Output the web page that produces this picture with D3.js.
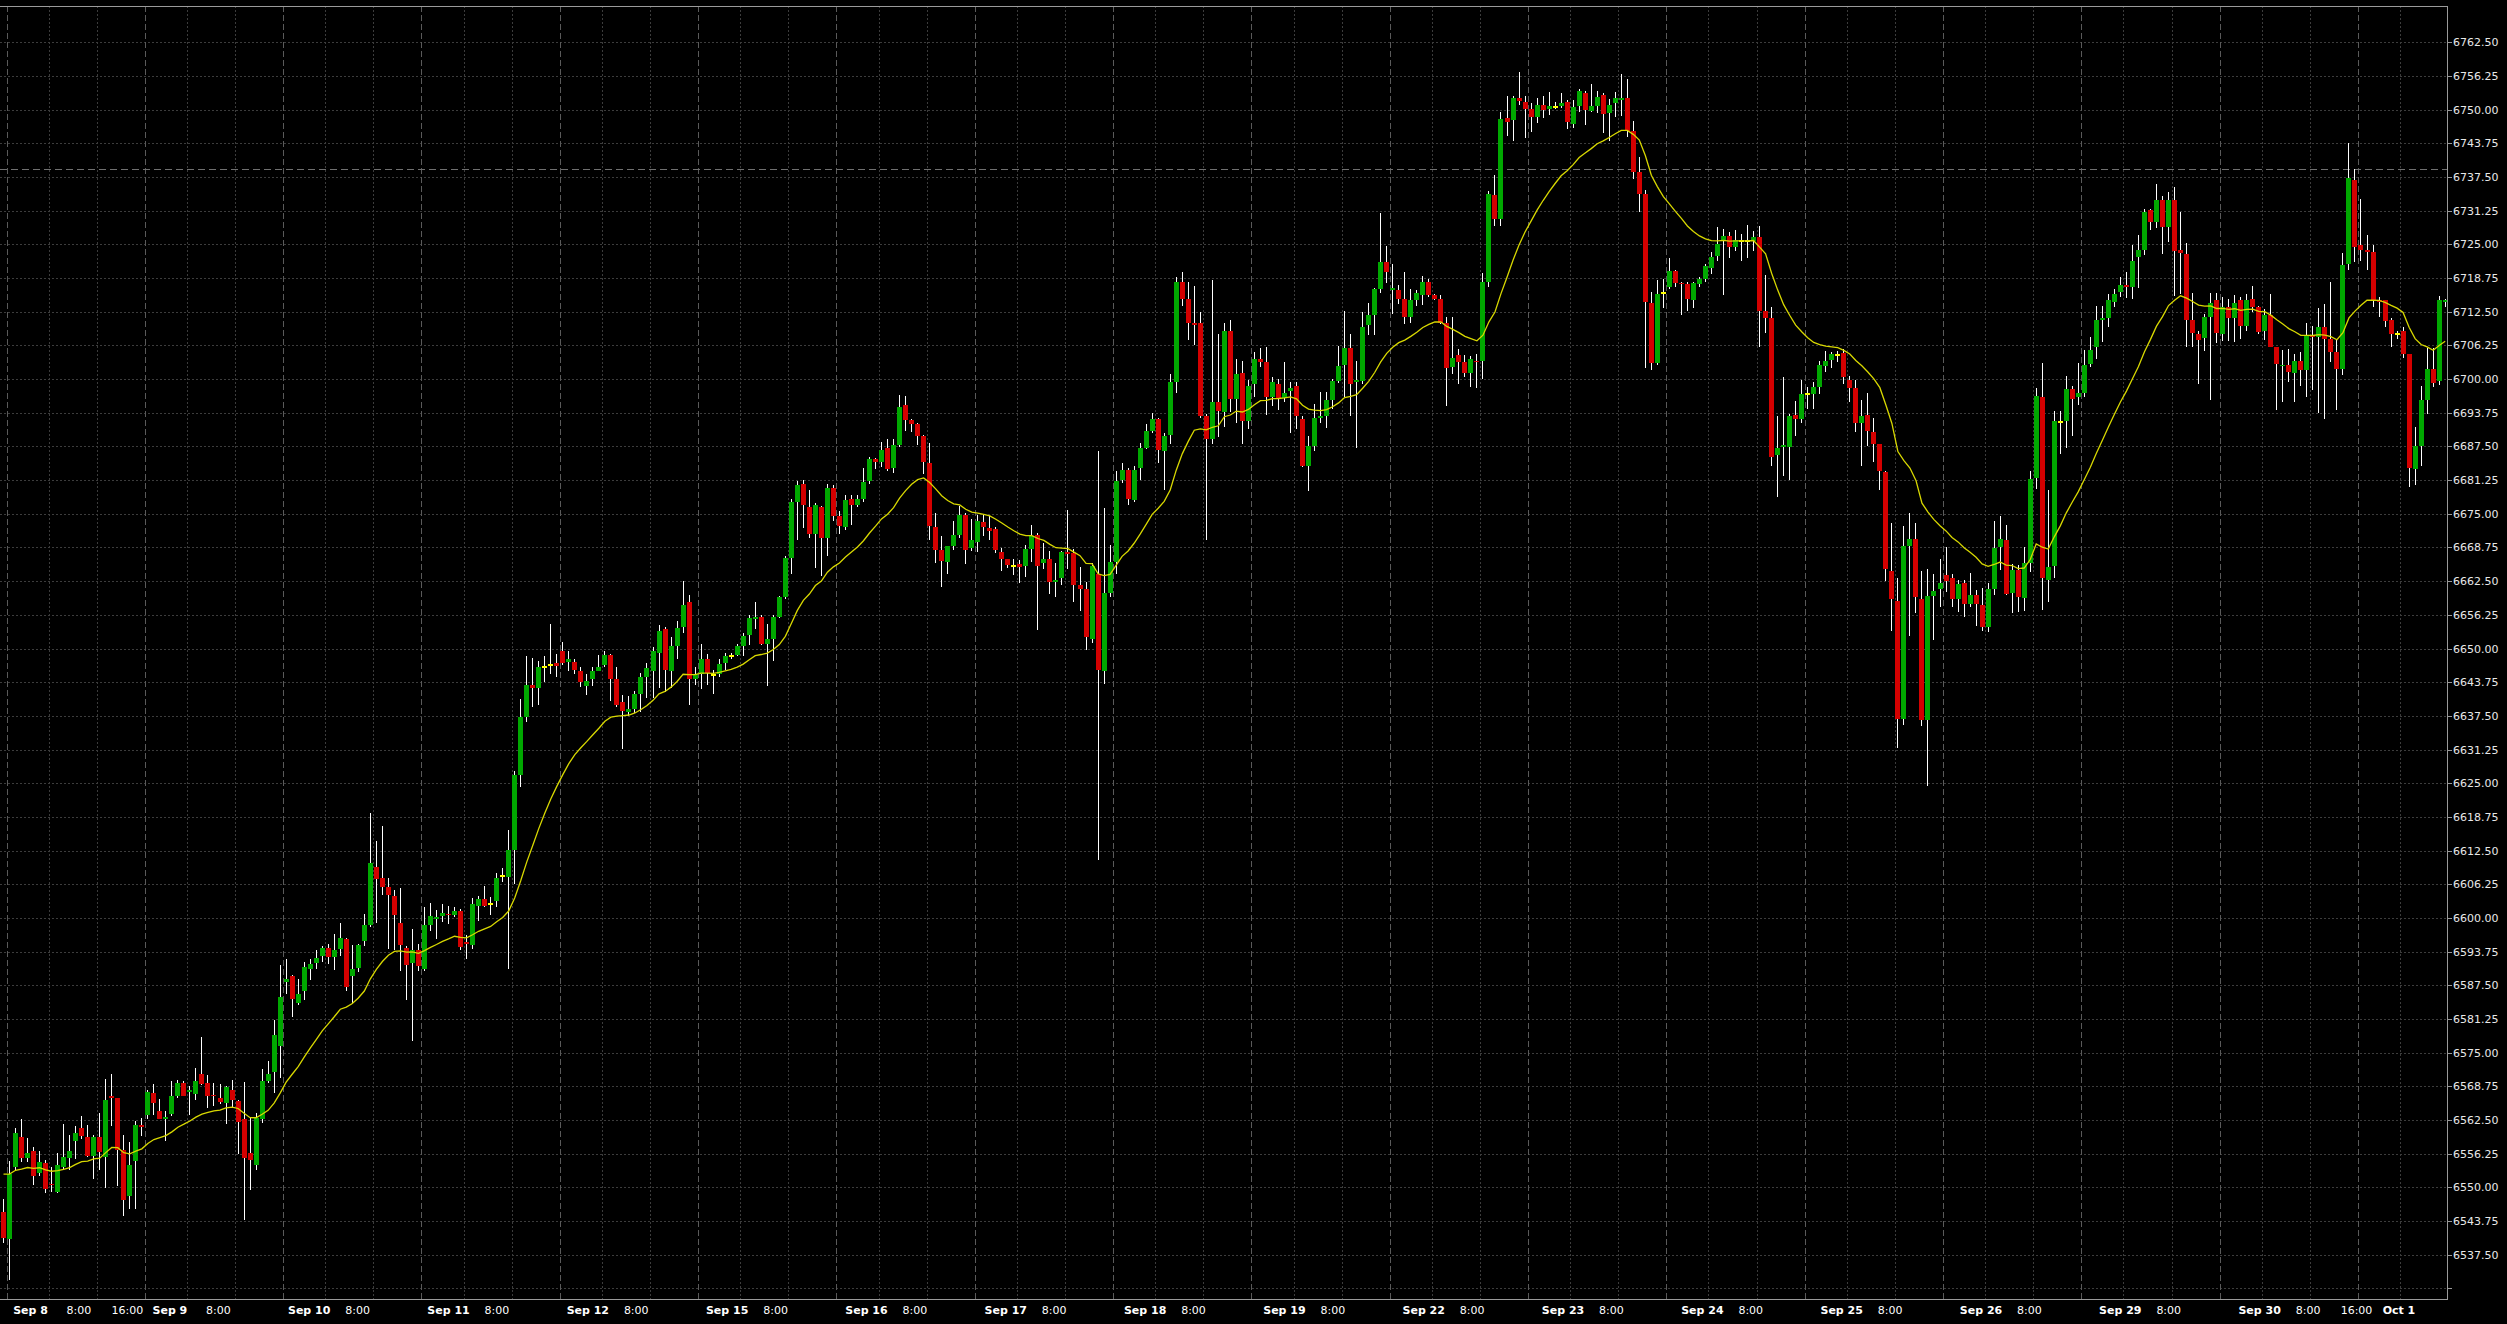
<!DOCTYPE html>
<html><head><meta charset="utf-8">
<script src="https://cdn.jsdelivr.net/npm/d3@7"></script>
<style>html,body{margin:0;padding:0;background:#000;overflow:hidden}svg{display:block}</style>
</head><body>
<svg id="chart" width="2507" height="1324"></svg>
<script>
// ---- hourly OHLC bars, one array per session: [open, high, low, close] ----
const sep05 = [[6545.5,6547.9,6539.7,6540.6]];
const sep08 = [
[6540.5,6554.9,6532.9,6552.5],[6553.8,6561.0,6553.3,6560.0],[6559.3,6562.6,6554.7,6555.5],[6555.4,6559.1,6554.7,6556.4],
[6556.8,6557.5,6550.5,6552.1],[6552.6,6556.8,6552.1,6554.7],[6554.6,6555.0,6548.9,6549.7],[6550.7,6553.8,6549.1,6550.4],
[6549.1,6556.4,6549.0,6554.1],[6553.8,6561.8,6553.3,6555.7],[6555.4,6559.8,6553.3,6556.8],[6558.6,6561.4,6555.3,6560.0],
[6561.0,6563.3,6558.9,6559.5],[6559.3,6561.5,6555.7,6555.8],[6555.8,6559.8,6551.5,6559.3],[6559.4,6563.8,6553.3,6556.5],
[6555.6,6570.2,6549.9,6566.3],[6567.0,6571.1,6561.4,6566.5],[6566.5,6566.6,6550.2,6557.0],[6557.0,6559.8,6544.6,6547.6],
[6548.4,6558.4,6545.9,6554.2],[6554.9,6562.3,6545.9,6561.5],[6561.5,6562.8,6559.6,6561.2]];
const sep09 = [
[6563.5,6568.0,6562.6,6567.7],[6567.5,6569.1,6563.5,6565.7],[6564.2,6566.4,6562.6,6562.7],[6562.7,6564.1,6558.6,6563.0],
[6563.6,6569.7,6563.2,6567.0],[6566.9,6570.0,6566.6,6569.4],[6569.4,6569.7,6566.9,6567.0],[6567.7,6568.8,6563.5,6568.0],
[6567.3,6572.2,6566.3,6569.7],[6571.1,6577.9,6569.0,6569.1],[6569.4,6570.8,6564.8,6566.9],[6567.2,6569.4,6565.1,6566.9],
[6566.5,6569.1,6565.4,6565.8],[6565.7,6568.9,6561.7,6568.6],[6568.0,6569.9,6564.8,6566.3],[6566.1,6566.3,6556.1,6562.1],
[6562.6,6569.5,6543.9,6555.4],[6556.4,6562.8,6549.6,6555.0],[6554.1,6563.8,6553.3,6562.9],[6562.6,6571.9,6562.0,6569.8],
[6569.8,6573.4,6569.4,6571.1],[6571.4,6581.0,6567.5,6578.3],[6576.2,6591.3,6570.3,6585.3]];
const sep10 = [
[6588.1,6592.3,6585.8,6588.7],[6589.3,6589.5,6581.7,6585.0],[6584.3,6588.7,6583.9,6585.9],[6586.5,6591.8,6584.7,6590.9],
[6590.6,6592.3,6588.5,6591.5],[6591.6,6594.1,6590.5,6592.6],[6592.9,6594.7,6591.9,6594.5],[6594.5,6595.1,6591.5,6592.7],
[6592.8,6597.1,6590.4,6594.1],[6594.2,6599.1,6592.9,6596.3],[6596.0,6596.3,6586.4,6587.2],[6589.2,6594.9,6584.2,6590.6],
[6590.8,6595.2,6589.9,6594.9],[6595.7,6600.7,6594.7,6598.6],[6598.6,6619.4,6598.4,6610.2],[6609.4,6614.3,6599.1,6607.2],
[6607.5,6617.1,6604.3,6605.7],[6605.7,6607.4,6594.3,6604.2],[6604.1,6605.2,6594.1,6600.6],[6599.1,6605.6,6590.1,6594.9],
[6594.4,6594.8,6584.8,6591.3],[6591.6,6598.0,6577.1,6594.1],[6594.1,6595.2,6590.1,6591.0]];
const sep11 = [
[6590.6,6602.1,6590.1,6598.7],[6598.6,6602.8,6597.6,6600.3],[6599.8,6601.5,6596.1,6600.1],[6600.3,6602.5,6599.2,6601.0],
[6600.8,6602.3,6598.9,6600.5],[6600.6,6602.1,6600.2,6601.3],[6601.3,6601.7,6594.0,6594.6],[6595.6,6596.8,6592.4,6595.2],
[6594.9,6603.7,6594.3,6602.5],[6602.3,6604.1,6599.4,6603.6],[6603.6,6606.0,6602.1,6602.3],[6602.6,6603.9,6600.6,6602.6],
[6603.1,6608.3,6602.1,6607.5],[6607.8,6609.3,6606.6,6607.8],[6607.6,6616.4,6590.6,6612.6],[6612.6,6627.2,6606.3,6626.6],
[6626.6,6640.6,6624.3,6637.3],[6637.3,6648.6,6636.4,6643.2],[6643.2,6648.3,6639.2,6642.6],[6642.6,6647.7,6639.5,6646.5],
[6646.6,6648.7,6643.7,6646.6],[6647.0,6654.5,6645.2,6647.0],[6647.3,6649.0,6644.8,6646.8]];
const sep12 = [
[6649.5,6651.2,6647.0,6647.3],[6647.5,6649.6,6645.8,6648.0],[6647.5,6648.1,6645.2,6646.1],[6645.8,6646.5,6642.8,6643.7],
[6643.1,6645.3,6641.4,6644.0],[6644.4,6646.6,6643.1,6645.8],[6645.9,6648.8,6645.8,6646.6],[6646.9,6649.5,6646.5,6648.8],
[6648.8,6649.0,6640.3,6644.4],[6644.3,6646.5,6639.2,6639.5],[6640.1,6641.4,6631.3,6638.4],[6638.2,6641.1,6637.5,6638.7],
[6638.8,6642.2,6638.0,6641.6],[6641.6,6645.5,6638.2,6644.7],[6644.7,6647.4,6640.8,6646.4],[6645.9,6650.2,6640.8,6649.6],
[6649.1,6654.3,6642.6,6653.2],[6653.6,6654.0,6641.9,6646.1],[6645.9,6652.1,6642.6,6650.5],[6650.5,6655.1,6648.1,6653.8],
[6654.0,6662.5,6652.9,6658.0],[6658.6,6660.0,6639.5,6644.4],[6644.4,6646.5,6643.3,6645.2]];
const sep15 = [
[6645.2,6650.8,6642.5,6648.0],[6648.0,6649.0,6643.2,6645.4],[6645.1,6646.1,6641.5,6645.1],[6645.2,6648.1,6644.8,6647.2],
[6647.3,6649.2,6646.1,6648.7],[6648.7,6649.2,6648.1,6648.7],[6648.8,6650.9,6648.6,6650.5],[6650.5,6652.9,6648.7,6652.4],
[6652.5,6656.2,6650.7,6655.6],[6655.4,6658.6,6653.6,6655.9],[6655.9,6656.2,6650.7,6650.9],[6650.8,6654.5,6643.0,6651.8],
[6651.8,6656.2,6647.7,6655.9],[6655.9,6659.8,6655.6,6659.5],[6659.5,6667.2,6659.1,6666.8],[6666.8,6677.8,6663.9,6677.1],
[6677.1,6681.1,6670.1,6680.3],[6680.5,6681.2,6672.3,6676.6],[6676.2,6679.4,6670.5,6671.3],[6671.3,6677.0,6665.0,6676.6],
[6676.3,6676.5,6663.5,6670.5],[6670.5,6680.5,6667.2,6679.8],[6679.8,6680.3,6673.7,6674.5]];
const sep16 = [
[6674.6,6675.6,6671.2,6672.7],[6672.5,6678.5,6672.0,6677.6],[6677.8,6678.4,6673.0,6676.7],[6676.7,6678.5,6676.2,6677.8],
[6677.8,6683.5,6677.2,6680.9],[6681.1,6685.5,6680.5,6685.1],[6685.1,6685.3,6683.3,6684.7],[6684.7,6688.4,6683.6,6686.8],
[6687.3,6688.9,6682.9,6683.3],[6683.5,6688.8,6682.5,6687.7],[6687.8,6697.0,6687.4,6694.8],[6695.1,6696.8,6690.4,6692.4],
[6692.4,6692.6,6690.2,6691.7],[6691.7,6691.8,6687.7,6689.5],[6689.5,6689.6,6682.3,6684.7],[6684.5,6688.2,6670.1,6672.8],
[6672.6,6675.2,6665.9,6668.3],[6668.3,6670.8,6661.5,6666.2],[6666.1,6669.1,6663.9,6669.0],[6669.0,6673.7,6668.3,6671.0],
[6671.0,6676.5,6670.5,6674.7],[6674.7,6675.2,6665.7,6668.3],[6668.6,6674.0,6668.1,6670.1]];
const sep17 = [
[6669.7,6674.8,6667.9,6673.6],[6673.5,6674.7,6670.8,6672.5],[6672.4,6674.5,6670.1,6671.9],[6672.1,6672.5,6667.7,6668.3],
[6668.0,6668.7,6664.3,6666.6],[6666.6,6666.7,6664.9,6665.5],[6665.3,6666.6,6663.6,6665.3],[6665.7,6666.4,6662.1,6665.1],
[6665.3,6669.2,6663.3,6668.5],[6668.5,6673.0,6666.1,6670.9],[6671.1,6671.4,6653.5,6665.3],[6665.8,6669.6,6664.7,6666.7],
[6666.6,6668.1,6660.2,6662.4],[6662.3,6665.8,6659.6,6662.8],[6663.0,6668.1,6661.7,6668.0],[6667.9,6675.7,6664.8,6667.5],
[6667.7,6668.5,6658.6,6661.7],[6661.7,6665.2,6657.0,6661.1],[6661.1,6662.3,6649.8,6652.1],[6651.8,6665.8,6651.1,6665.3],
[6663.8,6686.6,6610.7,6646.0],[6645.8,6676.0,6643.5,6660.3],[6660.3,6669.2,6659.6,6666.1]];
const sep18 = [
[6666.1,6682.9,6663.9,6681.0],[6681.2,6684.4,6680.7,6683.1],[6683.1,6683.5,6676.7,6677.7],[6677.6,6683.8,6677.2,6683.1],
[6683.5,6688.2,6681.3,6687.2],[6687.2,6691.6,6687.0,6690.3],[6690.4,6693.7,6690.0,6692.5],[6692.5,6692.7,6684.5,6686.8],
[6686.6,6690.0,6679.5,6689.5],[6689.7,6701.0,6688.0,6699.5],[6699.5,6719.0,6697.5,6718.0],[6718.0,6719.8,6713.5,6714.9],
[6714.9,6718.0,6707.2,6710.5],[6710.5,6717.3,6706.3,6710.1],[6710.5,6712.5,6692.7,6693.1],[6693.1,6693.5,6670.1,6688.8],
[6688.8,6718.3,6688.0,6695.7],[6695.7,6708.4,6689.3,6694.0],[6693.8,6710.5,6691.2,6709.0],[6709.0,6711.0,6693.8,6696.3],
[6696.3,6703.7,6691.9,6701.0],[6701.2,6703.4,6688.0,6692.3],[6692.3,6699.9,6690.8,6698.8]];
const sep19 = [
[6699.0,6705.0,6696.6,6703.7],[6703.7,6705.7,6702.3,6703.1],[6703.1,6705.9,6693.3,6696.6],[6696.6,6700.4,6695.0,6699.5],
[6699.1,6700.1,6694.2,6696.5],[6696.5,6703.1,6695.7,6697.5],[6697.8,6699.5,6690.0,6698.4],[6698.7,6699.5,6690.8,6693.1],
[6692.5,6693.1,6683.6,6683.8],[6683.8,6689.5,6679.3,6687.5],[6687.5,6695.3,6686.6,6692.7],[6692.8,6697.6,6691.9,6693.2],
[6693.2,6697.6,6691.0,6696.2],[6696.2,6700.1,6694.4,6699.7],[6699.7,6706.2,6699.3,6702.5],[6702.7,6712.6,6696.7,6705.8],
[6705.8,6708.4,6693.1,6699.1],[6699.4,6703.3,6687.2,6699.9],[6699.7,6712.4,6699.1,6709.7],[6710.1,6714.1,6708.2,6711.8],
[6711.8,6716.9,6708.2,6716.8],[6716.8,6730.8,6716.0,6721.8],[6721.8,6724.7,6717.9,6719.8]];
const sep22 = [
[6716.5,6721.4,6712.1,6716.9],[6716.5,6717.4,6713.9,6714.8],[6714.8,6719.9,6710.3,6711.6],[6711.6,6716.8,6710.5,6714.6],
[6714.6,6716.5,6713.6,6716.0],[6715.6,6719.2,6713.7,6718.0],[6718.0,6718.6,6715.2,6715.6],[6715.6,6715.8,6714.6,6714.8],
[6714.8,6715.6,6710.3,6710.5],[6710.5,6711.6,6695.0,6702.0],[6702.3,6711.6,6701.0,6703.9],[6704.4,6705.6,6699.1,6703.1],
[6703.1,6704.4,6700.3,6701.2],[6701.2,6704.3,6698.6,6703.7],[6703.4,6704.6,6698.4,6703.1],[6703.3,6719.6,6700.1,6718.0],
[6718.0,6734.9,6717.0,6734.3],[6734.2,6737.8,6728.4,6729.8],[6729.8,6749.5,6728.4,6748.2],[6748.4,6752.6,6745.2,6747.7],
[6748.0,6752.6,6744.2,6752.2],[6752.2,6757.0,6750.8,6751.6],[6751.5,6752.6,6744.8,6750.2]];
const sep23 = [
[6750.2,6751.3,6745.8,6748.6],[6748.6,6752.1,6747.5,6750.8],[6750.8,6752.6,6748.4,6750.0],[6750.1,6753.3,6749.0,6750.6],
[6750.5,6751.4,6750.2,6750.5],[6750.6,6753.0,6750.4,6751.3],[6751.4,6751.7,6746.4,6747.7],[6747.3,6751.7,6746.6,6750.5],
[6750.6,6753.9,6749.5,6753.5],[6753.0,6753.5,6747.1,6749.9],[6749.8,6754.8,6749.5,6750.6],[6750.6,6753.5,6749.3,6752.4],
[6752.8,6753.0,6745.7,6749.2],[6749.3,6752.0,6744.2,6750.8],[6751.2,6753.2,6748.6,6752.1],[6751.8,6756.6,6748.8,6752.1],
[6752.1,6755.7,6744.9,6746.1],[6746.1,6747.9,6737.1,6738.4],[6738.4,6741.3,6731.1,6734.4],[6734.4,6735.0,6702.0,6714.3],
[6714.2,6716.1,6701.6,6702.9],[6702.9,6718.4,6702.7,6715.8],[6716.0,6718.6,6713.1,6716.0]];
const sep24 = [
[6717.0,6722.5,6716.7,6720.0],[6720.0,6720.2,6717.1,6717.8],[6717.8,6718.0,6711.8,6717.6],[6717.7,6718.0,6712.7,6714.9],
[6714.7,6718.0,6713.1,6717.8],[6717.6,6718.9,6717.1,6718.6],[6718.6,6721.3,6718.0,6720.9],[6720.7,6723.6,6719.5,6722.7],
[6722.9,6728.2,6722.0,6725.1],[6725.8,6727.8,6715.6,6726.5],[6726.5,6727.3,6722.4,6724.5],[6724.5,6727.6,6723.8,6725.8],
[6725.7,6726.9,6722.0,6725.7],[6725.7,6728.6,6722.4,6725.7],[6725.7,6727.5,6723.8,6726.4],[6726.4,6728.4,6706.0,6712.7],
[6712.7,6719.3,6708.5,6711.4],[6711.4,6713.4,6683.9,6685.6],[6685.9,6693.2,6678.1,6687.2],[6687.4,6700.3,6682.1,6687.7],
[6687.4,6693.6,6681.2,6693.2],[6693.4,6695.9,6689.4,6692.5],[6692.5,6699.8,6691.9,6697.2]];
const sep25 = [
[6697.2,6698.5,6694.5,6697.2],[6697.2,6699.4,6694.5,6698.5],[6698.5,6703.4,6697.3,6702.7],[6702.5,6705.3,6701.3,6703.4],
[6703.6,6705.1,6702.0,6704.7],[6704.5,6705.3,6703.2,6704.5],[6704.9,6705.6,6699.0,6700.3],[6699.8,6700.5,6695.8,6698.3],
[6698.3,6699.8,6690.1,6691.9],[6691.9,6696.1,6683.9,6693.2],[6693.4,6697.4,6687.6,6690.3],[6690.1,6692.7,6684.6,6687.9],
[6687.9,6688.0,6679.4,6683.0],[6682.8,6683.0,6662.6,6664.8],[6664.4,6673.2,6653.3,6659.1],[6658.8,6663.0,6631.6,6636.9],
[6636.9,6672.8,6635.8,6669.0],[6669.0,6675.2,6652.4,6670.3],[6670.3,6673.2,6656.6,6659.5],[6659.1,6664.4,6635.6,6636.7],
[6636.7,6664.8,6624.5,6659.8],[6659.8,6663.9,6651.5,6660.6],[6661.0,6666.6,6657.7,6662.1]];
const sep26 = [
[6663.7,6668.8,6660.4,6662.6],[6663.0,6663.9,6657.7,6659.1],[6659.1,6662.8,6656.8,6661.9],[6662.2,6662.8,6655.9,6658.3],
[6658.3,6664.1,6657.7,6659.9],[6659.9,6660.8,6654.2,6658.2],[6658.0,6661.3,6653.3,6654.0],[6654.0,6662.2,6653.0,6661.1],
[6661.1,6673.7,6659.9,6668.7],[6668.8,6674.5,6664.5,6670.4],[6670.2,6673.0,6660.0,6660.2],[6660.3,6665.7,6656.6,6664.5],
[6664.6,6665.5,6656.8,6659.5],[6659.4,6668.9,6656.9,6665.9],[6665.9,6683.0,6664.2,6681.5],[6681.6,6698.3,6679.6,6696.8],
[6696.6,6703.0,6657.2,6663.1],[6662.8,6679.5,6658.6,6665.2],[6665.4,6694.0,6663.0,6692.3],[6692.1,6694.0,6686.1,6692.1],
[6692.3,6700.5,6687.2,6698.1],[6698.1,6698.8,6689.5,6696.3],[6696.6,6703.0,6695.2,6697.5]];
const sep29 = [
[6697.4,6705.4,6696.6,6702.6],[6702.8,6707.8,6702.2,6705.4],[6705.9,6713.5,6703.7,6711.0],[6711.0,6713.5,6706.9,6711.3],
[6711.3,6715.8,6709.6,6714.6],[6714.3,6716.7,6713.3,6715.8],[6716.1,6719.0,6715.2,6717.4],[6717.5,6719.9,6715.0,6717.0],
[6717.0,6724.8,6714.9,6722.0],[6722.6,6726.7,6716.9,6723.9],[6724.0,6731.6,6723.1,6731.1],[6731.3,6731.6,6727.7,6729.1],
[6729.1,6736.2,6728.1,6733.2],[6733.2,6734.0,6723.3,6728.3],[6728.3,6734.7,6725.4,6733.2],[6733.2,6735.6,6715.5,6723.8],
[6724.0,6731.1,6715.8,6723.4],[6723.2,6725.3,6706.0,6711.0],[6711.0,6716.0,6706.0,6708.5],[6708.4,6709.0,6699.0,6707.3],
[6707.6,6712.1,6705.3,6711.6],[6711.6,6716.0,6696.1,6714.1],[6714.6,6716.0,6706.7,6708.5]];
const sep30 = [
[6708.4,6715.2,6707.1,6713.3],[6713.3,6714.9,6707.1,6711.3],[6711.3,6715.6,6706.8,6714.1],[6714.6,6715.2,6707.5,6709.8],
[6709.8,6715.8,6708.9,6714.7],[6714.9,6717.3,6712.4,6713.3],[6713.3,6713.6,6708.4,6708.8],[6708.9,6713.0,6707.3,6711.8],
[6711.9,6715.8,6705.9,6705.9],[6706.0,6706.0,6694.2,6702.8],[6702.4,6705.4,6695.7,6702.7],[6702.7,6705.5,6699.4,6701.3],
[6701.2,6704.7,6695.7,6703.3],[6703.3,6705.0,6698.8,6701.7],[6701.7,6710.5,6696.6,6708.1],[6708.2,6709.9,6697.9,6707.9],
[6707.8,6713.1,6693.7,6709.6],[6709.6,6713.9,6692.6,6707.5],[6707.5,6718.1,6703.1,6705.0],[6705.0,6707.5,6694.2,6701.9],
[6701.9,6723.4,6700.7,6721.2],[6721.3,6743.9,6720.3,6737.3],[6737.0,6739.0,6721.7,6724.6]];
const oct01 = [
[6724.9,6733.4,6722.0,6724.0],[6724.0,6726.8,6720.3,6723.5],[6723.5,6724.8,6713.3,6714.6],[6714.7,6715.3,6711.5,6714.3],
[6714.6,6714.7,6709.6,6710.7],[6711.0,6711.3,6705.9,6708.4],[6708.3,6709.0,6707.5,6708.3],[6708.9,6709.6,6703.9,6704.7],
[6704.6,6704.7,6680.0,6683.5],[6683.4,6691.1,6680.3,6687.5],[6687.5,6698.8,6683.8,6696.1],[6696.1,6705.8,6693.6,6701.9],
[6701.9,6705.7,6698.5,6699.2],[6699.6,6715.5,6698.9,6714.6],[6714.3,6714.9,6713.3,6714.6]];

const sessions = [sep05, sep08, sep09, sep10, sep11, sep12, sep15, sep16, sep17, sep18, sep19,
                  sep22, sep23, sep24, sep25, sep26, sep29, sep30, oct01];
const sessionNames = ["Sep 5","Sep 8","Sep 9","Sep 10","Sep 11","Sep 12","Sep 15","Sep 16","Sep 17","Sep 18","Sep 19",
                      "Sep 22","Sep 23","Sep 24","Sep 25","Sep 26","Sep 29","Sep 30","Oct 1"];
const sessionFirstHour = [23,1,1,1,1,1,1,1,1,1,1,1,1,1,1,1,1,1,1];

// price axis ticks
const priceTicks = [6531.25,6537.50,6543.75,6550.00,6556.25,6562.50,6568.75,6575.00,6581.25,6587.50,6593.75,
  6600.00,6606.25,6612.50,6618.75,6625.00,6631.25,6637.50,6643.75,6650.00,6656.25,6662.50,6668.75,6675.00,
  6681.25,6687.50,6693.75,6700.00,6706.25,6712.50,6718.75,6725.00,6731.25,6737.50,6743.75,6750.00,6756.25,6762.50];
const labeledFrom = 6537.50;
// time axis labels: [session name, hour, bold]
const timeLabels = [["Sep 8",1,true],["Sep 8",8,false],["Sep 8",16,false],["Sep 9",1,true],["Sep 9",8,false],
  ["Sep 10",1,true],["Sep 10",8,false],["Sep 11",1,true],["Sep 11",8,false],["Sep 12",1,true],["Sep 12",8,false],
  ["Sep 15",1,true],["Sep 15",8,false],["Sep 16",1,true],["Sep 16",8,false],["Sep 17",1,true],["Sep 17",8,false],
  ["Sep 18",1,true],["Sep 18",8,false],["Sep 19",1,true],["Sep 19",8,false],["Sep 22",1,true],["Sep 22",8,false],
  ["Sep 23",1,true],["Sep 23",8,false],["Sep 24",1,true],["Sep 24",8,false],["Sep 25",1,true],["Sep 25",8,false],
  ["Sep 26",1,true],["Sep 26",8,false],["Sep 29",1,true],["Sep 29",8,false],["Sep 30",1,true],["Sep 30",8,false],
  ["Sep 30",16,false],["Oct 1",1,true]];
const gridHours = [8,16];
const hLineLevel = 6738.9;           // horizontal dashed line
const emaPeriod = 20, emaSeed = 6553.7; // moving average indicator

// ---- flatten bars ----
const bars = [];
sessions.forEach((s, si) => s.forEach((b, k) => {
  bars.push({i: bars.length, session: sessionNames[si], hour: sessionFirstHour[si] + k,
    o: b[0], h: Math.max(b[1], b[0], b[3]), l: Math.min(b[2], b[0], b[3]), c: b[3]});
}));
const N = bars.length;
// exponential moving average of closes
let prev = emaSeed; const alpha = 2 / (emaPeriod + 1);
bars.forEach(b => { prev = prev + alpha * (b.c - prev); b.ma = prev; });

// ---- layout ----
const W = 2507, H = 1324;
const plotL = 0, plotR = 2447, plotT = 6, plotB = 1299;
const x = d3.scaleLinear().domain([0, N - 1]).range([3.5, 3.5 + 6.014 * (N - 1)]);
const xLab = d3.scaleLinear().domain([0, N - 1]).range([24.5, 24.5 + 6.0573 * (N - 1)]);
const y = d3.scaleLinear().domain([6531.25, 6762.5]).range([1288.4, 42.3]);

const svg = d3.select("#chart");
svg.append("rect").attr("width", W).attr("height", H).attr("fill", "#000");

const grid = svg.append("g").attr("shape-rendering", "crispEdges");
// horizontal grid
grid.selectAll("line.hg").data(priceTicks).join("line")
  .attr("x1", plotL).attr("x2", plotR)
  .attr("y1", d => Math.round(y(d)) + 0.5).attr("y2", d => Math.round(y(d)) + 0.5)
  .attr("stroke", "#3c3c3c").attr("stroke-dasharray", "2,2");
// vertical grid: session starts (dashed) and intraday hours (dotted)
const sessionStarts = bars.filter((b, k) => k > 0 && b.session !== bars[k - 1].session);
const hourMarks = bars.filter(b => gridHours.includes(b.hour) && b.session !== "Sep 5");
const boundX = b => Math.round((x(b.i - 1) + x(b.i)) / 2) + 0.5;
grid.selectAll("line.vh").data(hourMarks).join("line")
  .attr("x1", boundX).attr("x2", boundX).attr("y1", plotT).attr("y2", plotB)
  .attr("stroke", "#3c3c3c").attr("stroke-dasharray", "2,2");
grid.selectAll("line.vd").data(sessionStarts).join("line")
  .attr("x1", boundX).attr("x2", boundX).attr("y1", plotT).attr("y2", plotB)
  .attr("stroke", "#5a5a5a").attr("stroke-dasharray", "6,3");
// horizontal dashed level
grid.append("line").attr("x1", plotL).attr("x2", plotR)
  .attr("y1", Math.round(y(hLineLevel)) + 0.5).attr("y2", Math.round(y(hLineLevel)) + 0.5)
  .attr("stroke", "#707070").attr("stroke-dasharray", "7,4");

// ---- candles ----
const cg = svg.append("g").attr("shape-rendering", "crispEdges");
const col = b => Math.floor(x(b.i));
cg.selectAll("rect.wick").data(bars).join("rect")
  .attr("x", col).attr("width", 1)
  .attr("y", b => Math.round(y(b.h))).attr("height", b => Math.max(1, Math.round(y(b.l)) - Math.round(y(b.h))))
  .attr("fill", "#ffffff");
cg.selectAll("rect.body").data(bars.filter(b => b.o !== b.c)).join("rect")
  .attr("x", b => col(b) - 2).attr("width", 5)
  .attr("y", b => Math.round(y(Math.max(b.o, b.c))))
  .attr("height", b => Math.max(1, Math.round(y(Math.min(b.o, b.c))) - Math.round(y(Math.max(b.o, b.c)))))
  .attr("fill", b => b.c > b.o ? "#00a800" : "#d40000");
cg.selectAll("rect.doji").data(bars.filter(b => b.o === b.c)).join("rect")
  .attr("x", b => col(b) - 2).attr("width", 5)
  .attr("y", b => Math.round(y(b.o)) - 1).attr("height", 2)
  .attr("fill", "#ffff00");

// ---- moving average ----
svg.append("path").datum(bars)
  .attr("d", d3.line().x(b => x(b.i)).y(b => y(b.ma)))
  .attr("fill", "none").attr("stroke", "#d8d800").attr("stroke-width", 1.3);

// ---- frame ----
const fr = svg.append("g").attr("shape-rendering", "crispEdges");
fr.append("line").attr("x1", plotL).attr("x2", plotR + 0.5).attr("y1", plotT + 0.5).attr("y2", plotT + 0.5).attr("stroke", "#9a9a9a");
fr.append("line").attr("x1", plotL).attr("x2", plotR + 0.5).attr("y1", plotB + 0.5).attr("y2", plotB + 0.5).attr("stroke", "#9a9a9a");
fr.append("line").attr("x1", plotR + 0.5).attr("x2", plotR + 0.5).attr("y1", plotT).attr("y2", plotB + 1).attr("stroke", "#9a9a9a");

// ---- price axis ----
const pa = svg.append("g");
pa.selectAll("line").data(priceTicks).join("line").attr("shape-rendering", "crispEdges")
  .attr("x1", plotR).attr("x2", plotR + 5)
  .attr("y1", d => Math.round(y(d)) + 0.5).attr("y2", d => Math.round(y(d)) + 0.5)
  .attr("stroke", "#9a9a9a");
pa.selectAll("text").data(priceTicks.filter(d => d >= labeledFrom)).join("text")
  .attr("x", plotR + 6).attr("y", d => y(d) + 4)
  .attr("fill", "#e8e8e8").attr("font-family", "DejaVu Sans, sans-serif").attr("font-size", "11px")
  .text(d => d3.format(".2f")(d));

// ---- time axis ----
const ta = svg.append("g");
ta.selectAll("text").data(timeLabels).join("text")
  .attr("x", d => {
    const b = bars.find(q => q.session === d[0] && q.hour === d[1]);
    return xLab(b.i) + (d[2] ? 0 : 6);
  })
  .attr("y", 1314).attr("text-anchor", "middle")
  .attr("fill", "#ffffff").attr("font-family", "DejaVu Sans, sans-serif").attr("font-size", "11px")
  .attr("font-weight", d => d[2] ? "bold" : "normal")
  .text(d => d[2] ? d[0] : d[1] + ":00");
</script>
</body></html>
